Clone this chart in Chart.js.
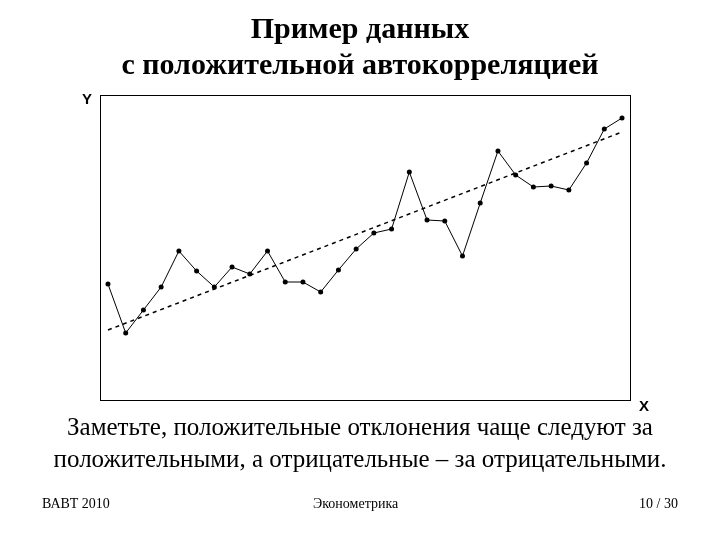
<!DOCTYPE html>
<html><head><meta charset="utf-8">
<script src="https://cdn.jsdelivr.net/npm/chart.js@4"></script>
<style>
body{margin:0;background:#fff;}
#wrap{position:relative;width:720px;height:540px;font-family:"Liberation Serif",serif;}
canvas{position:absolute;left:0;top:0;}
.t{position:absolute;left:0;width:720px;text-align:center;color:#000;white-space:nowrap;}
.s{position:absolute;font-family:"Liberation Sans",Arial,sans-serif;font-weight:bold;font-size:15px;}
</style></head><body>
<div id="wrap">
<canvas id="c" width="720" height="540"></canvas>
<div class="t" style="top:10px;font-size:30px;font-weight:bold;line-height:36px;">Пример данных<br>с положительной автокорреляцией</div>
<div class="s" style="left:82px;top:90px;">Y</div>
<div class="s" style="left:639px;top:397px;">X</div>
<div class="t" style="top:411px;font-size:25px;line-height:32px;">Заметьте, положительные отклонения чаще следуют за<br>положительными, а отрицательные – за отрицательными.</div>
<div class="t" style="top:496px;font-size:14px;"><span style="position:absolute;left:42px;">ВАВТ 2010</span><span style="position:absolute;left:313px;">Эконометрика</span><span style="position:absolute;right:42px;">10 / 30</span></div>
</div>
<script>
const xs=[1,2,3,4,5,6,7,8,9,10,11,12,13,14,15,16,17,18,19,20,21,22,23,24,25,26,27,28,29,30];
const ys=[116,67,90,113,149,129,113,133,126,149,118,118,108,130,151,167,171,228,180,179,144,197,249,225,213,214,210,237,271,282];
const trendX=[1,30];
const trendY=[70,268];
const frame={id:'frame',afterDraw(c){const a=c.chartArea,g=c.ctx;g.save();g.strokeStyle='#000';g.lineWidth=1;g.strokeRect(a.left+0.5,a.top+0.5,a.right-a.left,a.bottom-a.top);g.restore();}};
new Chart(document.getElementById('c'),{type:'scatter',
data:{datasets:[
{data:xs.map((x,i)=>({x,y:ys[i]})),showLine:true,borderColor:'#000',backgroundColor:'#000',borderWidth:1,pointRadius:2.5,pointBorderWidth:0},
{data:trendX.map((x,i)=>({x,y:trendY[i]})),showLine:true,borderColor:'#000',borderWidth:1.5,borderDash:[4,4],pointRadius:0}
]},
options:{responsive:false,animation:false,events:[],
layout:{padding:{left:100,right:90,top:95,bottom:140}},
plugins:{legend:{display:false},tooltip:{enabled:false}},
scales:{x:{type:'linear',min:0.55,max:30.45,display:false},y:{min:0,max:305,display:false}}},
plugins:[frame]});
</script></body></html>
